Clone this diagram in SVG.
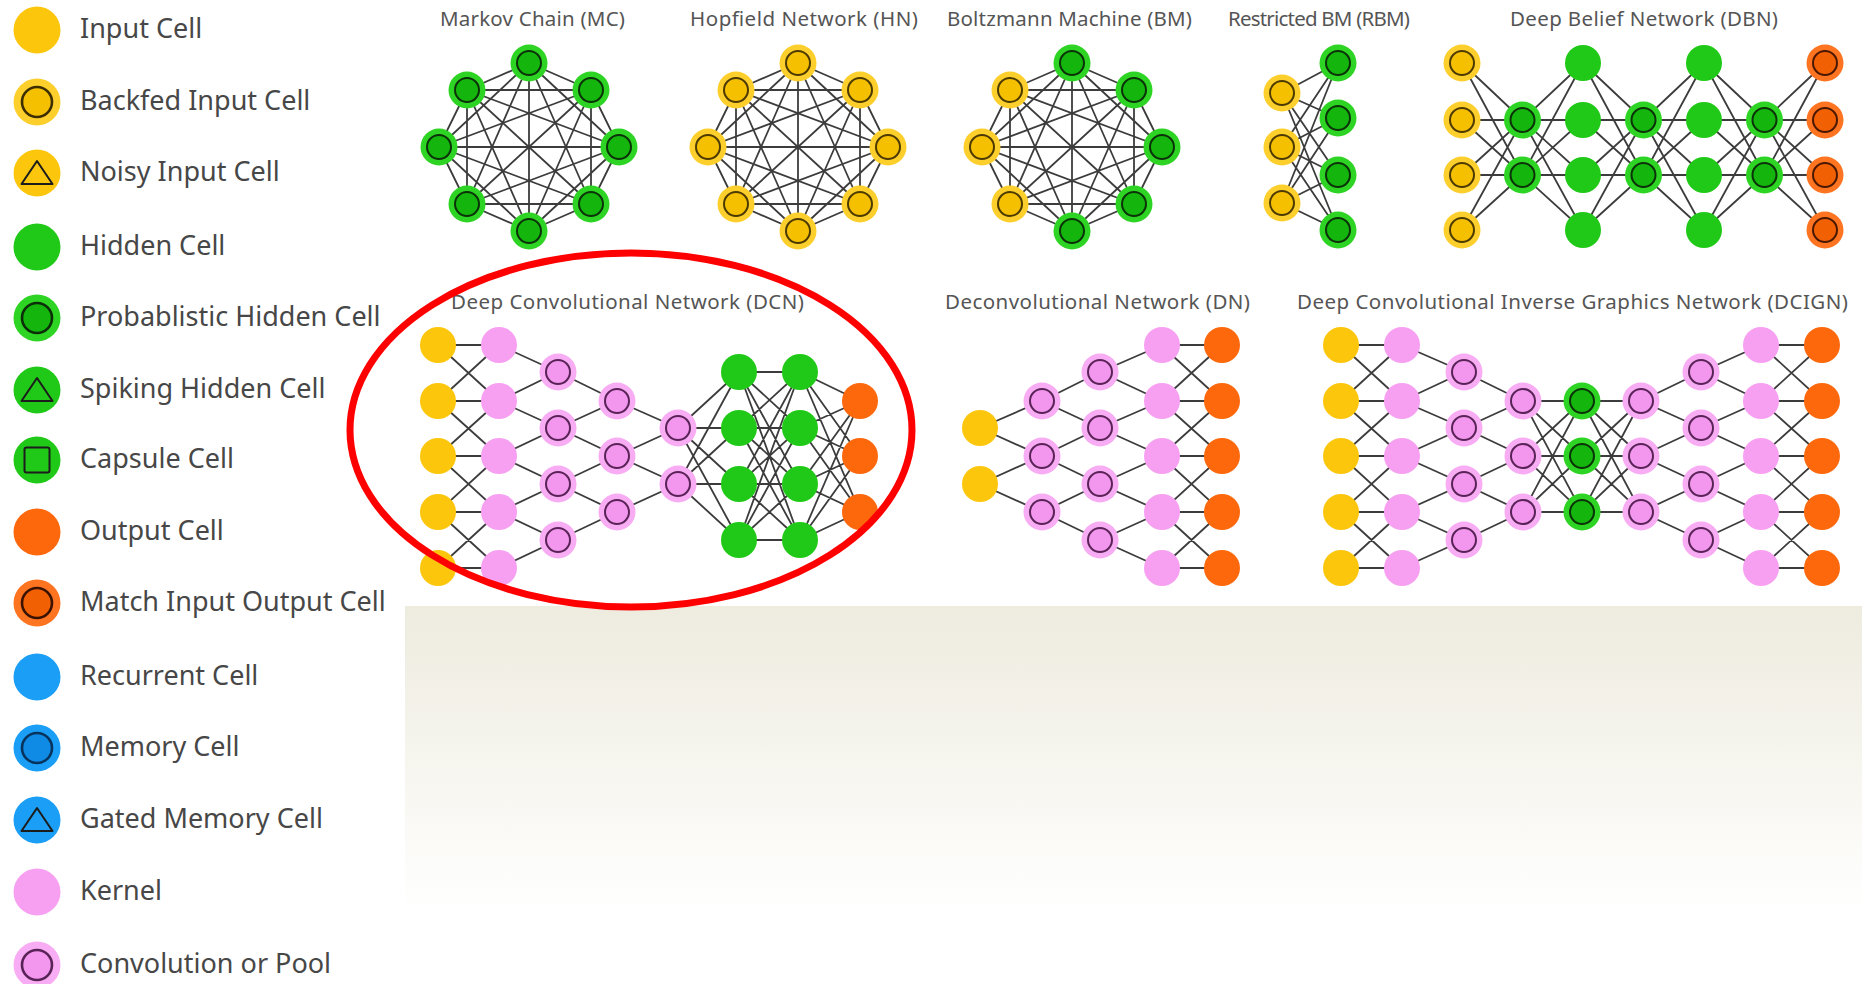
<svg xmlns="http://www.w3.org/2000/svg" width="1862" height="984" viewBox="0 0 1862 984">
<style>
.e{stroke:#3c3c3c;stroke-width:1.8;fill:none;stroke-linecap:round}
.lg{font-family:"Noto Sans","Open Sans",sans-serif;font-size:27px;fill:#474747}
.tt{font-family:"Noto Sans","Open Sans",sans-serif;font-size:20.5px;fill:#555}
.mk{fill:none;stroke:#1c1c1c;stroke-width:2;stroke-linejoin:round}
</style>
<defs>
<linearGradient id="pg" x1="0" y1="0" x2="0" y2="1">
<stop offset="0" stop-color="#eeebdf"/><stop offset="0.5" stop-color="#f6f5ee"/><stop offset="1" stop-color="#ffffff"/>
</linearGradient>
<g id="in"><circle r="18" fill="#fcc60c"/></g>
<g id="bin"><circle r="18.5" fill="#fccf2c"/><circle r="12" fill="#f5c000" stroke="#4d3a00" stroke-width="2"/></g>
<g id="hid"><circle r="18" fill="#20c917"/></g>
<g id="phid"><circle r="18.5" fill="#2ed423"/><circle r="12" fill="#14b50d" stroke="#0b3208" stroke-width="2"/></g>
<g id="out"><circle r="18" fill="#fd680c"/></g>
<g id="mout"><circle r="18.5" fill="#ff7420"/><circle r="12" fill="#f26004" stroke="#4a1800" stroke-width="2"/></g>
<g id="ker"><circle r="18" fill="#f7a0f2"/></g>
<g id="conv"><circle r="18.5" fill="#f8acf3"/><circle r="12" fill="#f396ee" stroke="#5a2358" stroke-width="2"/></g>
<path id="k8" class="e" d="M0 -84L62 -57M0 -84L90 0M0 -84L62 57M0 -84L0 84M0 -84L-62 57M0 -84L-90 0M0 -84L-62 -57M62 -57L90 0M62 -57L62 57M62 -57L0 84M62 -57L-62 57M62 -57L-90 0M62 -57L-62 -57M90 0L62 57M90 0L0 84M90 0L-62 57M90 0L-90 0M90 0L-62 -57M62 57L0 84M62 57L-62 57M62 57L-90 0M62 57L-62 -57M0 84L-62 57M0 84L-90 0M0 84L-62 -57M-62 57L-90 0M-62 57L-62 -57M-90 0L-62 -57"/>
<path id="dA" class="e" d="M0 63L60.5 120M0 63L60.5 175M0 120L60.5 120M0 120L60.5 175M0 175L60.5 120M0 175L60.5 175M0 230L60.5 120M0 230L60.5 175"/>
<path id="dB" class="e" d="M0 120L60.5 63M0 120L60.5 120M0 120L60.5 175M0 120L60.5 230M0 175L60.5 63M0 175L60.5 120M0 175L60.5 175M0 175L60.5 230"/>
<path id="lad" class="e" d="M0 345L61 345M0 401L61 401M0 456L61 456M0 512L61 512M0 568L61 568M0 345L61 401M0 401L61 345M0 401L61 456M0 456L61 401M0 456L61 512M0 512L61 456M0 512L61 568M0 568L61 512"/>
</defs>
<rect width="1862" height="984" fill="#ffffff"/>
<rect id="panel" x="405" y="606" width="1457" height="305" fill="url(#pg)"/>

<g id="legend">
<g id="lg-input"><circle cx="37" cy="30" r="23.5" fill="#fcc60c"/><text class="lg" x="80" y="38">Input Cell</text></g>
<g id="lg-backfed"><circle cx="37" cy="102" r="23.5" fill="#fccf2c"/><circle cx="37" cy="102" r="15" fill="#f5c000" stroke="#3d2e00" stroke-width="2.6"/><text class="lg" x="80" y="110">Backfed Input Cell</text></g>
<g id="lg-noisy"><circle cx="37" cy="173" r="23.5" fill="#fcc60c"/><path class="mk" stroke-width="2.8" d="M37 161L21.5 184L52.5 184Z"/><text class="lg" x="80" y="181">Noisy Input Cell</text></g>
<g id="lg-hidden"><circle cx="37" cy="247" r="23.5" fill="#20c917"/><text class="lg" x="80" y="255">Hidden Cell</text></g>
<g id="lg-prob"><circle cx="37" cy="318" r="23.5" fill="#2ed423"/><circle cx="37" cy="318" r="15" fill="#14b50d" stroke="#0b2e08" stroke-width="2.6"/><text class="lg" x="80" y="326">Probablistic Hidden Cell</text></g>
<g id="lg-spiking"><circle cx="37" cy="390" r="23.5" fill="#20c917"/><path class="mk" stroke-width="2.8" d="M37 378L21.5 401L52.5 401Z"/><text class="lg" x="80" y="398">Spiking Hidden Cell</text></g>
<g id="lg-capsule"><circle cx="37" cy="460" r="23.5" fill="#20c917"/><rect class="mk" stroke-width="2.8" x="24.5" y="447.5" width="25" height="25" rx="2"/><text class="lg" x="80" y="468">Capsule Cell</text></g>
<g id="lg-output"><circle cx="37" cy="532" r="23.5" fill="#fd680c"/><text class="lg" x="80" y="540">Output Cell</text></g>
<g id="lg-match"><circle cx="37" cy="603" r="23.5" fill="#ff7420"/><circle cx="37" cy="603" r="15" fill="#f26004" stroke="#3a1300" stroke-width="2.6"/><text class="lg" x="80" y="611">Match Input Output Cell</text></g>
<g id="lg-recurrent"><circle cx="37" cy="677" r="23.5" fill="#1a9ef6"/><text class="lg" x="80" y="685">Recurrent Cell</text></g>
<g id="lg-memory"><circle cx="37" cy="748" r="23.5" fill="#1a9ef6"/><circle cx="37" cy="748" r="15" fill="#0f8be6" stroke="#07335c" stroke-width="2.6"/><text class="lg" x="80" y="756">Memory Cell</text></g>
<g id="lg-gated"><circle cx="37" cy="820" r="23.5" fill="#1a9ef6"/><path class="mk" stroke="#07284a" stroke-width="2.8" d="M37 808L21.5 831L52.5 831Z"/><text class="lg" x="80" y="828">Gated Memory Cell</text></g>
<g id="lg-kernel"><circle cx="37" cy="892" r="23.5" fill="#f7a0f2"/><text class="lg" x="80" y="900">Kernel</text></g>
<g id="lg-conv"><circle cx="37" cy="965" r="23.5" fill="#f8acf3"/><circle cx="37" cy="965" r="15" fill="#f396ee" stroke="#5a2358" stroke-width="2.6"/><text class="lg" x="80" y="973">Convolution or Pool</text></g>
</g>

<g id="titles">
<text class="tt" x="440" y="26" textLength="185">Markov Chain (MC)</text>
<text class="tt" x="690" y="26" textLength="228">Hopfield Network (HN)</text>
<text class="tt" x="947" y="26" textLength="245">Boltzmann Machine (BM)</text>
<text class="tt" x="1228" y="26" textLength="182">Restricted BM (RBM)</text>
<text class="tt" x="1510" y="26" textLength="268">Deep Belief Network (DBN)</text>
<text class="tt" x="451" y="309" textLength="353">Deep Convolutional Network (DCN)</text>
<text class="tt" x="945" y="309" textLength="305">Deconvolutional Network (DN)</text>
<text class="tt" x="1297" y="309" textLength="551">Deep Convolutional Inverse Graphics Network (DCIGN)</text>
</g>

<g id="connectors">
<use href="#k8" x="529" y="147"/>
<use href="#k8" x="798" y="147"/>
<use href="#k8" x="1072" y="147"/>
<path class="e" d="M1282 93L1338 63M1282 93L1338 118M1282 93L1338 175M1282 93L1338 230M1282 147L1338 63M1282 147L1338 118M1282 147L1338 175M1282 147L1338 230M1282 203L1338 63M1282 203L1338 118M1282 203L1338 175M1282 203L1338 230"/>
<use href="#dA" x="1462"/><use href="#dB" x="1522.5"/><use href="#dA" x="1583"/><use href="#dB" x="1643.5"/><use href="#dA" x="1704"/><use href="#dB" x="1764.5"/>
<use href="#lad" x="438"/>
<path class="e" d="M499 345L558 372M499 401L558 372M499 401L558 428M499 456L558 428M499 456L558 484M499 512L558 484M499 512L558 540M499 568L558 540
M558 372L617 401M558 428L617 401M558 428L617 456M558 484L617 456M558 484L617 512M558 540L617 512
M617 401L678 428M617 456L678 428M617 456L678 484M617 512L678 484
M678 428L739 372M678 428L739 428M678 428L739 484M678 428L739 540M678 484L739 372M678 484L739 428M678 484L739 484M678 484L739 540
M739 372L800 372M739 372L800 428M739 372L800 484M739 372L800 540M739 428L800 372M739 428L800 428M739 428L800 484M739 428L800 540M739 484L800 372M739 484L800 428M739 484L800 484M739 484L800 540M739 540L800 372M739 540L800 428M739 540L800 484M739 540L800 540
M800 372L860 401M800 372L860 456M800 372L860 512M800 428L860 401M800 428L860 456M800 428L860 512M800 484L860 401M800 484L860 456M800 484L860 512M800 540L860 401M800 540L860 456M800 540L860 512"/>
<path class="e" d="M980 428L1042 401M980 428L1042 456M980 484L1042 456M980 484L1042 512
M1042 401L1100 372M1042 401L1100 428M1042 456L1100 428M1042 456L1100 484M1042 512L1100 484M1042 512L1100 540
M1100 372L1162 345M1100 372L1162 401M1100 428L1162 401M1100 428L1162 456M1100 484L1162 456M1100 484L1162 512M1100 540L1162 512M1100 540L1162 568"/>
<use href="#lad" x="1161"/>
<use href="#lad" x="1341"/>
<path class="e" d="M1402 345L1464 372M1402 401L1464 372M1402 401L1464 428M1402 456L1464 428M1402 456L1464 484M1402 512L1464 484M1402 512L1464 540M1402 568L1464 540
M1464 372L1523 401M1464 428L1523 401M1464 428L1523 456M1464 484L1523 456M1464 484L1523 512M1464 540L1523 512
M1523 401L1582 401M1523 401L1582 456M1523 401L1582 512M1523 456L1582 401M1523 456L1582 456M1523 456L1582 512M1523 512L1582 401M1523 512L1582 456M1523 512L1582 512
M1582 401L1641 401M1582 401L1641 456M1582 401L1641 512M1582 456L1641 401M1582 456L1641 456M1582 456L1641 512M1582 512L1641 401M1582 512L1641 456M1582 512L1641 512
M1641 401L1701 372M1641 401L1701 428M1641 456L1701 428M1641 456L1701 484M1641 512L1701 484M1641 512L1701 540
M1701 372L1761 345M1701 372L1761 401M1701 428L1761 401M1701 428L1761 456M1701 484L1761 456M1701 484L1761 512M1701 540L1761 512M1701 540L1761 568"/>
<use href="#lad" x="1761"/>
</g>

<g id="mc">
<use href="#phid" x="529" y="63"/><use href="#phid" x="591" y="90"/><use href="#phid" x="619" y="147"/><use href="#phid" x="591" y="204"/><use href="#phid" x="529" y="231"/><use href="#phid" x="467" y="204"/><use href="#phid" x="439" y="147"/><use href="#phid" x="467" y="90"/>
</g>
<g id="hn">
<use href="#bin" x="798" y="63"/><use href="#bin" x="860" y="90"/><use href="#bin" x="888" y="147"/><use href="#bin" x="860" y="204"/><use href="#bin" x="798" y="231"/><use href="#bin" x="736" y="204"/><use href="#bin" x="708" y="147"/><use href="#bin" x="736" y="90"/>
</g>
<g id="bm">
<use href="#phid" x="1072" y="63"/><use href="#phid" x="1134" y="90"/><use href="#phid" x="1162" y="147"/><use href="#phid" x="1134" y="204"/><use href="#phid" x="1072" y="231"/><use href="#bin" x="1010" y="204"/><use href="#bin" x="982" y="147"/><use href="#bin" x="1010" y="90"/>
</g>
<g id="rbm">
<use href="#bin" x="1282" y="93"/><use href="#bin" x="1282" y="147"/><use href="#bin" x="1282" y="203"/>
<use href="#phid" x="1338" y="63"/><use href="#phid" x="1338" y="118"/><use href="#phid" x="1338" y="175"/><use href="#phid" x="1338" y="230"/>
</g>
<g id="dbn">
<use href="#bin" x="1462" y="63"/><use href="#bin" x="1462" y="120"/><use href="#bin" x="1462" y="175"/><use href="#bin" x="1462" y="230"/>
<use href="#phid" x="1522.5" y="120"/><use href="#phid" x="1522.5" y="175"/>
<use href="#hid" x="1583" y="63"/><use href="#hid" x="1583" y="120"/><use href="#hid" x="1583" y="175"/><use href="#hid" x="1583" y="230"/>
<use href="#phid" x="1643.5" y="120"/><use href="#phid" x="1643.5" y="175"/>
<use href="#hid" x="1704" y="63"/><use href="#hid" x="1704" y="120"/><use href="#hid" x="1704" y="175"/><use href="#hid" x="1704" y="230"/>
<use href="#phid" x="1764.5" y="120"/><use href="#phid" x="1764.5" y="175"/>
<use href="#mout" x="1825" y="63"/><use href="#mout" x="1825" y="120"/><use href="#mout" x="1825" y="175"/><use href="#mout" x="1825" y="230"/>
</g>
<g id="dcn">
<use href="#in" x="438" y="345"/><use href="#in" x="438" y="401"/><use href="#in" x="438" y="456"/><use href="#in" x="438" y="512"/><use href="#in" x="438" y="568"/>
<use href="#ker" x="499" y="345"/><use href="#ker" x="499" y="401"/><use href="#ker" x="499" y="456"/><use href="#ker" x="499" y="512"/><use href="#ker" x="499" y="568"/>
<use href="#conv" x="558" y="372"/><use href="#conv" x="558" y="428"/><use href="#conv" x="558" y="484"/><use href="#conv" x="558" y="540"/>
<use href="#conv" x="617" y="401"/><use href="#conv" x="617" y="456"/><use href="#conv" x="617" y="512"/>
<use href="#conv" x="678" y="428"/><use href="#conv" x="678" y="484"/>
<use href="#hid" x="739" y="372"/><use href="#hid" x="739" y="428"/><use href="#hid" x="739" y="484"/><use href="#hid" x="739" y="540"/>
<use href="#hid" x="800" y="372"/><use href="#hid" x="800" y="428"/><use href="#hid" x="800" y="484"/><use href="#hid" x="800" y="540"/>
<use href="#out" x="860" y="401"/><use href="#out" x="860" y="456"/><use href="#out" x="860" y="512"/>
</g>
<g id="dn">
<use href="#in" x="980" y="428"/><use href="#in" x="980" y="484"/>
<use href="#conv" x="1042" y="401"/><use href="#conv" x="1042" y="456"/><use href="#conv" x="1042" y="512"/>
<use href="#conv" x="1100" y="372"/><use href="#conv" x="1100" y="428"/><use href="#conv" x="1100" y="484"/><use href="#conv" x="1100" y="540"/>
<use href="#ker" x="1162" y="345"/><use href="#ker" x="1162" y="401"/><use href="#ker" x="1162" y="456"/><use href="#ker" x="1162" y="512"/><use href="#ker" x="1162" y="568"/>
<use href="#out" x="1222" y="345"/><use href="#out" x="1222" y="401"/><use href="#out" x="1222" y="456"/><use href="#out" x="1222" y="512"/><use href="#out" x="1222" y="568"/>
</g>
<g id="dcign">
<use href="#in" x="1341" y="345"/><use href="#in" x="1341" y="401"/><use href="#in" x="1341" y="456"/><use href="#in" x="1341" y="512"/><use href="#in" x="1341" y="568"/>
<use href="#ker" x="1402" y="345"/><use href="#ker" x="1402" y="401"/><use href="#ker" x="1402" y="456"/><use href="#ker" x="1402" y="512"/><use href="#ker" x="1402" y="568"/>
<use href="#conv" x="1464" y="372"/><use href="#conv" x="1464" y="428"/><use href="#conv" x="1464" y="484"/><use href="#conv" x="1464" y="540"/>
<use href="#conv" x="1523" y="401"/><use href="#conv" x="1523" y="456"/><use href="#conv" x="1523" y="512"/>
<use href="#phid" x="1582" y="401"/><use href="#phid" x="1582" y="456"/><use href="#phid" x="1582" y="512"/>
<use href="#conv" x="1641" y="401"/><use href="#conv" x="1641" y="456"/><use href="#conv" x="1641" y="512"/>
<use href="#conv" x="1701" y="372"/><use href="#conv" x="1701" y="428"/><use href="#conv" x="1701" y="484"/><use href="#conv" x="1701" y="540"/>
<use href="#ker" x="1761" y="345"/><use href="#ker" x="1761" y="401"/><use href="#ker" x="1761" y="456"/><use href="#ker" x="1761" y="512"/><use href="#ker" x="1761" y="568"/>
<use href="#out" x="1822" y="345"/><use href="#out" x="1822" y="401"/><use href="#out" x="1822" y="456"/><use href="#out" x="1822" y="512"/><use href="#out" x="1822" y="568"/>
</g>
<g id="highlight">
<ellipse cx="631" cy="430" rx="281" ry="177" fill="none" stroke="#ff0000" stroke-width="7"/>
</g>
</svg>
